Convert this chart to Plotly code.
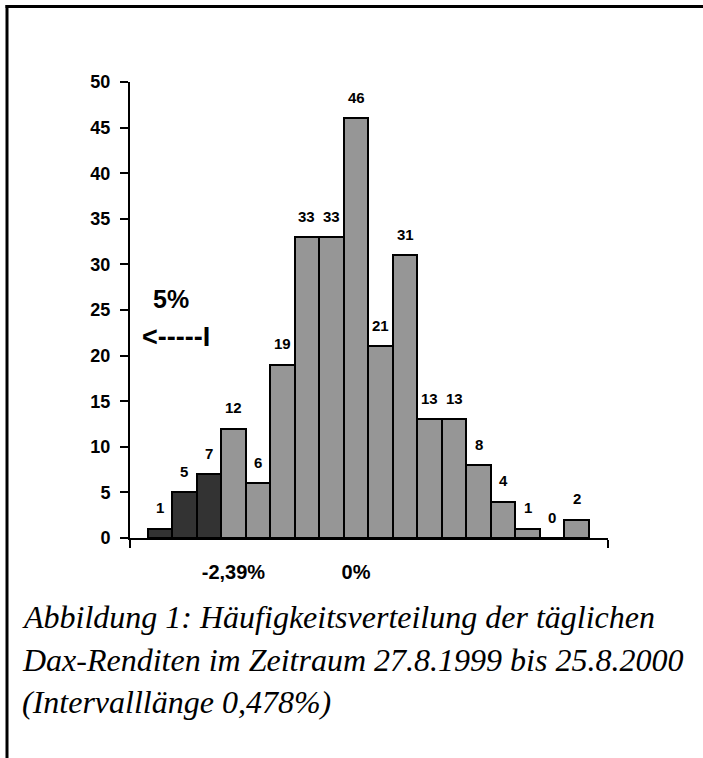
import plotly.graph_objects as go

# ---- data ----
bin_centers = [-3.824, -3.346, -2.868, -2.390, -1.912, -1.434, -0.956, -0.478, 0.000,
               0.478, 0.956, 1.434, 1.912, 2.390, 2.868, 3.346, 3.824, 4.302]
counts = [1, 5, 7, 12, 6, 19, 33, 33, 46, 21, 31, 13, 13, 8, 4, 1, 0, 2]
tail_flags = [1, 1, 1, 0, 0, 0, 0, 0, 0, 0, 0, 0, 0, 0, 0, 0, 0, 0]
x_tick_vals = [-2.390, 0.000]
x_tick_text = ["-2,39%", "0%"]
interval = 0.478

DARK = "#333333"
LIGHT = "#969696"
colors = [DARK if f else LIGHT for f in tail_flags]

# plot-area pixel geometry
W, H = 703, 758
L, R, T, B = 130, 608, 82, 538
XMIN = bin_centers[0] - interval / 2 - 0.72 * interval
XMAX = bin_centers[-1] + interval / 2 + 0.78 * interval


def px(x):
    return (x - L) / (R - L)


def py(y):
    return (B - y) / (B - T)


fig = go.Figure()
fig.add_trace(go.Bar(
    x=bin_centers, y=counts, width=interval,
    marker=dict(color=colors, line=dict(color="black", width=2)),
    hoverinfo="x+y", showlegend=False,
))

ann = []
for xc, v in zip(bin_centers, counts):
    ann.append(dict(x=xc, y=v, xref="x", yref="y", text=str(v), showarrow=False,
                    yshift=21, yanchor="middle", xanchor="center",
                    font=dict(family="Liberation Sans", size=15, color="black", weight="bold")))

ann.append(dict(x=px(171), y=py(299), xref="paper", yref="paper", text="5%", showarrow=False,
                xanchor="center", yanchor="middle",
                font=dict(family="Liberation Sans", size=25, color="black", weight="bold")))
ann.append(dict(x=px(176), y=py(337), xref="paper", yref="paper", text="<-----I", showarrow=False,
                xanchor="center", yanchor="middle",
                font=dict(family="Liberation Sans", size=27, color="black", weight="bold")))

caption = ["Abbildung 1: Häufigkeitsverteilung der täglichen",
           "Dax-Renditen im Zeitraum 27.8.1999 bis 25.8.2000",
           "(Intervalllänge 0,478%)"]
for line, yc in zip(caption, [617, 660, 702]):
    ann.append(dict(x=px(20), y=py(yc), xref="paper", yref="paper", text=line, showarrow=False,
                    xanchor="left", yanchor="middle",
                    font=dict(family="Liberation Serif", size=32, color="black", style="italic")))

shapes = [
    dict(type="line", xref="paper", yref="paper", x0=px(5.5), x1=px(703), y0=py(6.5), y1=py(6.5),
         line=dict(color="black", width=3)),
    dict(type="line", xref="paper", yref="paper", x0=px(7), x1=px(7), y0=py(5), y1=py(758),
         line=dict(color="black", width=3)),
]

fig.update_layout(
    width=W, height=H,
    margin=dict(l=L, r=W - R, t=T, b=H - B, pad=0),
    paper_bgcolor="white", plot_bgcolor="white",
    bargap=0,
    annotations=ann, shapes=shapes,
    xaxis=dict(range=[XMIN, XMAX], showgrid=False, zeroline=False,
               showline=True, linecolor="black", linewidth=2,
               tickmode="array", tickvals=x_tick_vals, ticktext=x_tick_text,
               ticks="", ticklabelstandoff=15,
               tickfont=dict(family="Liberation Sans", size=20, color="black", weight="bold"),
               minor=dict(tickmode="array", tickvals=[XMIN + 1e-3, XMAX - 1e-3], ticks="outside",
                          ticklen=8, tickwidth=2, tickcolor="black", showgrid=False)),
    yaxis=dict(range=[0, 50], dtick=5, tick0=0, showgrid=False, zeroline=False,
               showline=True, linecolor="black", linewidth=2,
               ticks="outside", ticklen=8, tickwidth=2, tickcolor="black",
               ticklabelstandoff=6,
               tickfont=dict(family="Liberation Sans", size=18, color="black", weight="bold")),
)

fig.write_html("out.html", config={"displayModeBar": False},
               post_script="document.body.style.margin='0';document.body.style.overflow='hidden';")
